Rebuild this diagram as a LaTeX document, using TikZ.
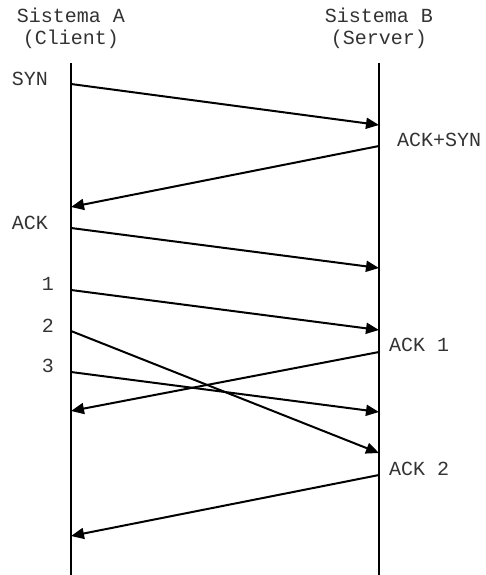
\documentclass[tikz,border=0pt]{standalone}
\usepackage{fontspec}
\setmonofont{Liberation Mono}
\usetikzlibrary{arrows.meta}
\begin{document}
\begin{tikzpicture}[x=1pt,y=-1pt,
  lbl/.style={font=\ttfamily\fontsize{20}{22}\selectfont, text=black!80, inner sep=0pt},
  life/.style={line width=2pt},
  msg/.style={line width=2pt, -{Triangle[length=13pt,width=11pt]}}]
\useasboundingbox (0,0) rectangle (485,575);
% headers
\node[lbl, align=center] (hA) at (71,28) {Sistema A\\(Client)};
\node[lbl, align=center] (hB) at (379,28) {Sistema B\\(Server)};
% lifelines
\coordinate (Atop) at (71,63);
\coordinate (Abot) at (71,575);
\coordinate (Btop) at (379,63);
\coordinate (Bbot) at (379,575);
\draw[life] (Atop) -- (Abot);
\draw[life] (Btop) -- (Bbot);
% message endpoints
\coordinate (a1) at (71,84);   \coordinate (b1) at (379,125);
\coordinate (b2) at (379,146); \coordinate (a2) at (71,207);
\coordinate (a3) at (71,228);  \coordinate (b3) at (379,268);
\coordinate (a4) at (71,290);  \coordinate (b4) at (379,330);
\coordinate (a5) at (71,331);  \coordinate (b5) at (379,453);
\coordinate (b6) at (379,352); \coordinate (a6) at (71,411);
\coordinate (a7) at (71,372);  \coordinate (b7) at (379,412);
\coordinate (b8) at (379,475); \coordinate (a8) at (71,536);
\draw[msg] (a1) -- (b1);
\draw[msg] (b2) -- (a2);
\draw[msg] (a3) -- (b3);
\draw[msg] (a4) -- (b4);
\draw[msg] (a5) -- (b5);
\draw[msg] (b6) -- (a6);
\draw[msg] (a7) -- (b7);
\draw[msg] (b8) -- (a8);
% labels
\node[lbl, anchor=east] (lsyn) at (48,79) {SYN};
\node[lbl, anchor=west] (lacksyn) at (397,140) {ACK+SYN};
\node[lbl, anchor=east] (lack) at (48,223) {ACK};
\node[lbl, anchor=east] (l1) at (54,284) {1};
\node[lbl, anchor=east] (l2) at (54,326) {2};
\node[lbl, anchor=east] (l3) at (54,366) {3};
\node[lbl, anchor=west] (lack1) at (389,345) {ACK 1};
\node[lbl, anchor=west] (lack2) at (389,469) {ACK 2};
\end{tikzpicture}
\end{document}
